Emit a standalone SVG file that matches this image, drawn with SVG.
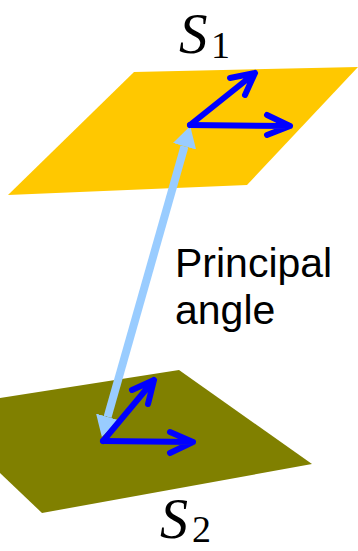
<svg xmlns="http://www.w3.org/2000/svg" width="358" height="551" viewBox="0 0 358 551">
  <style>
    .vec { fill: none; stroke: #0000FF; stroke-width: 6; stroke-linecap: round; stroke-linejoin: round; }
    .lbl { font-family: "Liberation Serif", "Times New Roman", serif; fill: #000; }
    .txt { font-family: "Liberation Sans", Arial, sans-serif; font-size: 41px; fill: #000; }
  </style>
  <defs>
    <marker id="lbHead" markerUnits="userSpaceOnUse" markerWidth="26" markerHeight="26" viewBox="0 0 26 26" refX="0" refY="12" orient="auto-start-reverse">
      <path d="M0,0 L21,12 L0,24 Z" fill="#99CCFF"/>
    </marker>
  </defs>
  <rect width="358" height="551" fill="#FFFFFF"/>

  <g id="plane-S1">
    <polygon points="134,72 358,67 247,185 8,195" fill="#FFC800"/>
    <text class="lbl" x="179" y="53" font-size="57" font-style="italic">S</text>
    <text class="lbl" x="211" y="58" font-size="38">1</text>
  </g>

  <g id="plane-S2">
    <polygon points="0,398 179,370 312,464 42,513 0,473" fill="#808000"/>
    <text class="lbl" x="160" y="538" font-size="56" font-style="italic">S</text>
    <text class="lbl" x="192" y="542" font-size="38">2</text>
  </g>

  <g id="label">
    <text class="txt" x="175" y="277">Principal</text>
    <text class="txt" x="175" y="324">angle</text>
  </g>

  <g id="connectors">
    <line x1="184.5" y1="146.3" x2="107.6" y2="416.9" stroke="#99CCFF" stroke-width="8" marker-start="url(#lbHead)" marker-end="url(#lbHead)"/>
    <path class="vec" d="M190,125 L290,126 M267,115 L290,126 L267,135"/>
    <path class="vec" d="M190,125 L255,73 M230,78 L255,73 L245,95"/>
    <path class="vec" d="M103,441 L193,442 M170,432 L193,442 L170,453"/>
    <path class="vec" d="M103,441 L154,380 M132,390 L154,380 L148,404"/>
  </g>
</svg>
